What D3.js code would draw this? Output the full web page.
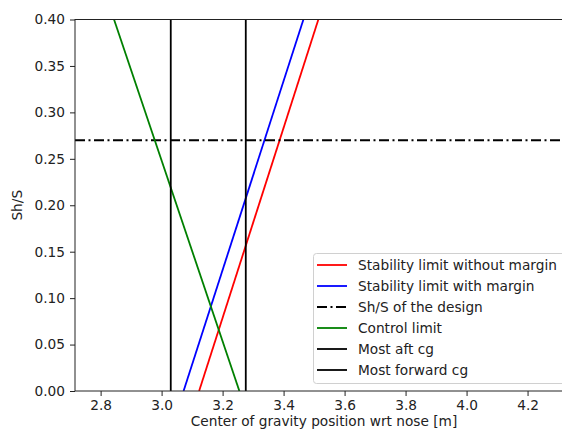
<!DOCTYPE html>
<html>
<head>
<meta charset="utf-8">
<script src="https://cdn.jsdelivr.net/npm/d3@7"></script>
<style>
  html, body { margin: 0; padding: 0; background: #fff; overflow: hidden; }
  svg { display: block; font-family: "DejaVu Sans", sans-serif; }
</style>
</head>
<body>
<svg id="chart" width="562" height="436"></svg>
<script>
// Tail sizing scissor plot: Sh/S against centre of gravity position
const shRange = [0, 0.4];
const stabilityNoMargin = [3.123, 3.514];   // x_cg at Sh/S = 0 and 0.4
const stabilityMargin = [3.072, 3.465];
const controlLimit = [3.255, 2.844];
const shDesign = 0.27;
const mostAftCg = 3.030;
const mostForwardCg = 3.276;
const xTicks = [2.8, 3.0, 3.2, 3.4, 3.6, 3.8, 4.0, 4.2];
const yTicks = [0, 0.05, 0.10, 0.15, 0.20, 0.25, 0.30, 0.35, 0.40];
const legendLabels = [
  "Stability limit without margin",
  "Stability limit with margin",
  "Sh/S of the design",
  "Control limit",
  "Most aft cg",
  "Most forward cg"
];

const svg = d3.select("#chart");
const plot = { left: 75, right: 573, top: 19.5, bottom: 391 };
const fontSize = "13.7px";

const x = d3.scaleLinear().domain([2.716, 4.349]).range([plot.left, plot.right]);
const y = d3.scaleLinear().domain([0, 0.4]).range([plot.bottom, plot.top]);

svg.append("defs").append("clipPath").attr("id", "clip")
  .append("rect")
  .attr("x", plot.left).attr("y", plot.top)
  .attr("width", plot.right - plot.left).attr("height", plot.bottom - plot.top);

const g = svg.append("g").attr("clip-path", "url(#clip)");
const line = d3.line().x(d => x(d[0])).y(d => y(d[1]));

const series = [
  { pts: shRange.map((s, i) => [stabilityNoMargin[i], s]), color: "#ff0000", dash: null },
  { pts: shRange.map((s, i) => [stabilityMargin[i], s]), color: "#0000ff", dash: null },
  { pts: [[x.domain()[0], shDesign], [x.domain()[1], shDesign]], color: "#000", dash: "10,3.5,2,3.5" },
  { pts: shRange.map((s, i) => [controlLimit[i], s]), color: "#008000", dash: null },
  { pts: shRange.map(s => [mostAftCg, s]), color: "#000", dash: null },
  { pts: shRange.map(s => [mostForwardCg, s]), color: "#000", dash: null }
];

series.forEach(s => {
  g.append("path")
    .attr("d", line(s.pts))
    .attr("fill", "none")
    .attr("stroke", s.color)
    .attr("stroke-width", 1.8)
    .attr("stroke-dasharray", s.dash);
});

// Axes
const xAxis = svg.append("g")
  .attr("transform", `translate(0,${plot.bottom})`)
  .call(d3.axisBottom(x).tickValues(xTicks).tickFormat(d3.format(".1f")).tickSize(5).tickPadding(4));
const yAxis = svg.append("g")
  .attr("transform", `translate(${plot.left},0)`)
  .call(d3.axisLeft(y).tickValues(yTicks).tickFormat(d3.format(".2f")).tickSize(5).tickPadding(5));

[xAxis, yAxis].forEach(a => {
  a.select(".domain").remove();
  a.selectAll(".tick line").attr("stroke", "#222").attr("stroke-width", 1);
  a.selectAll(".tick text").attr("fill", "#222").style("font-size", fontSize)
    .style("font-family", "DejaVu Sans, sans-serif");
});

// Frame
svg.append("rect")
  .attr("x", plot.left).attr("y", plot.top)
  .attr("width", plot.right - plot.left).attr("height", plot.bottom - plot.top)
  .attr("fill", "none").attr("stroke", "#222").attr("stroke-width", 1);

// Axis labels
svg.append("text")
  .attr("x", (plot.left + plot.right) / 2).attr("y", 426)
  .attr("text-anchor", "middle").attr("fill", "#222").style("font-size", fontSize)
  .text("Center of gravity position wrt nose [m]");
svg.append("text")
  .attr("transform", `translate(22,${(plot.top + plot.bottom) / 2}) rotate(-90)`)
  .attr("text-anchor", "middle").attr("fill", "#222").style("font-size", fontSize)
  .text("Sh/S");

// Legend
const legend = svg.append("g");
legend.append("rect")
  .attr("x", 313.5).attr("y", 253.5).attr("width", 270).attr("height", 130)
  .attr("rx", 3).attr("fill", "#fff").attr("fill-opacity", 0.85)
  .attr("stroke", "#d0d0d0").attr("stroke-width", 1);

legendLabels.forEach((label, i) => {
  const cy = 265 + i * 21;
  const s = series[i];
  legend.append("line")
    .attr("x1", 317).attr("x2", 347).attr("y1", cy).attr("y2", cy)
    .attr("stroke", s.color).attr("stroke-width", 1.8)
    .attr("stroke-dasharray", s.dash);
  legend.append("text")
    .attr("x", 358).attr("y", cy).attr("dy", "0.35em")
    .attr("fill", "#222").style("font-size", fontSize)
    .text(label);
});
</script>
</body>
</html>
